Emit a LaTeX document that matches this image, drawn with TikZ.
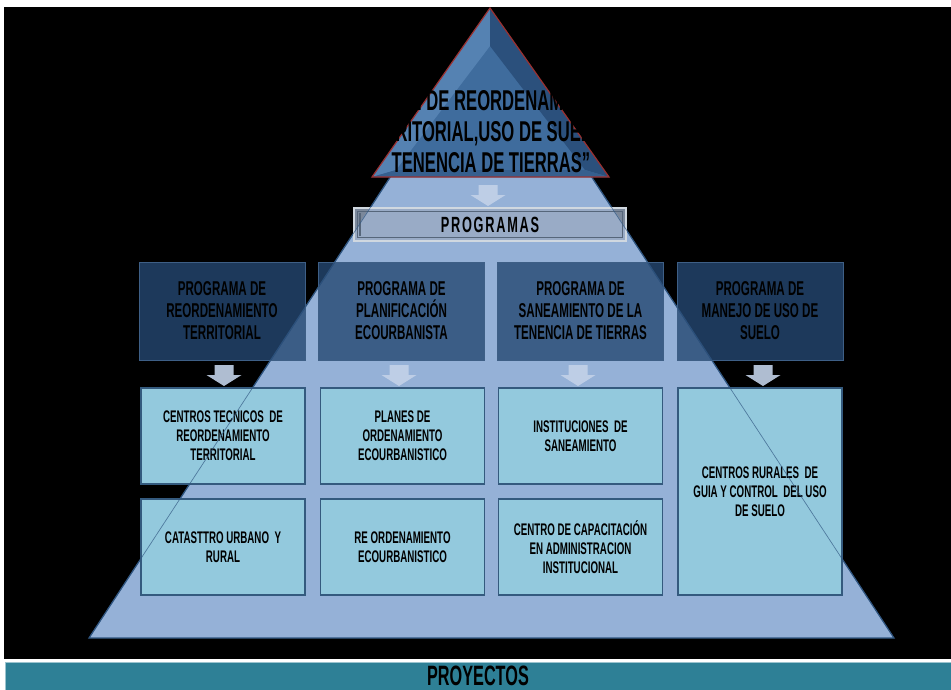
\documentclass[tikz,border=0pt]{standalone}
\usepackage{fontspec}
\newfontfamily\agency{Liberation Sans}[FakeStretch=0.58]
\definecolor{pyrfill}{HTML}{95B1D7}
\definecolor{pyredge}{HTML}{2F5580}
\definecolor{progfill}{HTML}{254872}
\definecolor{progedge}{HTML}{3E5F86}
\definecolor{cyanfill}{HTML}{93C9DD}
\definecolor{cyanedge}{HTML}{345A7E}
\definecolor{arrowcol}{HTML}{C3D2E8}
\definecolor{barteal}{HTML}{2E8096}
\definecolor{baredge}{HTML}{9CC4CF}
\definecolor{tribase}{HTML}{3F6C9D}
\definecolor{trileft}{HTML}{5582B2}
\definecolor{triright}{HTML}{2B507C}
\definecolor{tribottom}{HTML}{365F8E}
\definecolor{triedge}{HTML}{9A3030}
\definecolor{progsfill}{HTML}{9AAAC2}
\definecolor{progsedge}{HTML}{D0D8E0}
\definecolor{progsinner}{HTML}{56667A}
\begin{document}
\begin{tikzpicture}[x=0.75pt,y=-0.75pt,
  progbox/.style={fill=progfill, fill opacity=0.8, text opacity=1, draw=progedge, line width=0.6pt,
    minimum width=124.5pt, minimum height=73.5pt, inner sep=0pt, align=center, text=black,
    font=\agency\bfseries\fontsize{15}{16.5}\selectfont},
  cyanbox/.style={fill=cyanfill, draw=cyanedge, line width=0.9pt,
    minimum width=123pt, minimum height=72pt, inner sep=0pt, align=center, text=black,
    font=\agency\bfseries\fontsize{12.6}{14.25}\selectfont},
  tallbox/.style={cyanbox, minimum height=155.25pt},
  progsbox/.style={fill=progsfill, fill opacity=0.8, text opacity=1, draw=progsedge, line width=1.2pt,
    minimum width=204pt, minimum height=24.75pt, inner sep=0pt, text=black,
    font=\agency\bfseries\fontsize{16.5}{18}\selectfont\addfontfeature{LetterSpace=8}},
  titletext/.style={align=center, text=black, inner sep=0pt,
    font=\agency\bfseries\fontsize{21.5}{23.25}\selectfont},
  barbox/.style={fill=barteal, draw=baredge, line width=0.6pt, minimum width=709.5pt,
    minimum height=21pt, inner sep=0pt, text=black,
    font=\agency\bfseries\fontsize{21}{22}\selectfont},
  downarr/.pic={\fill[arrowcol, opacity=0.9] (-9.5,0) -- (9.5,0) -- (9.5,10) -- (17.5,10) -- (0,21) -- (-17.5,10) -- (-9.5,10) -- cycle;}
]
\useasboundingbox (0,0) rectangle (951,690);
\fill[white] (0,0) rectangle (951,690);
\fill[black] (4,7) rectangle (951,659);

% big pyramid
\coordinate (pbl) at (89,638);
\coordinate (pbr) at (894,638);
\coordinate (ptl) at (393.6,172);
\coordinate (ptr) at (588.4,172);
\fill[pyrfill] (pbl) -- (ptl) -- (ptr) -- (pbr) -- cycle;
\draw[pyredge, line width=0.9pt] (ptl) -- (pbl) -- (pbr) -- (ptr);

% PROGRAMAS arrow and box
\pic (arr0) at (488,185) {downarr};
\node[progsbox] (progs) at (490,224.5) {PROGRAMAS};
\draw[progsinner, line width=0.6pt] ([shift={(4,4)}]progs.north west) rectangle ([shift={(-4,-4)}]progs.south east);
\draw[progsinner, line width=1.5pt] ([shift={(7,6)}]progs.north west) -- ([shift={(7,-6)}]progs.south west);

% program boxes
\node[progbox] (p1) at (222,311) {PROGRAMA DE\\REORDENAMIENTO\\TERRITORIAL};
\node[progbox] (p2) at (401.5,311) {PROGRAMA DE\\PLANIFICACIÓN\\ECOURBANISTA};
\node[progbox] (p3) at (580.5,311) {PROGRAMA DE\\SANEAMIENTO DE LA\\TENENCIA DE TIERRAS};
\node[progbox] (p4) at (760,311) {PROGRAMA DE\\MANEJO DE USO DE\\SUELO};

% arrows
\pic (arr1) at (224,365) {downarr};
\pic (arr2) at (399,365) {downarr};
\pic (arr3) at (578,365) {downarr};
\pic (arr4) at (763,365) {downarr};

% project boxes
\node[cyanbox] (c11) at (223,436) {CENTROS TECNICOS\ \ DE\\REORDENAMIENTO\\TERRITORIAL};
\node[cyanbox] (c21) at (402.5,436) {PLANES DE\\ORDENAMIENTO\\ECOURBANISTICO};
\node[cyanbox] (c31) at (580.5,436) {INSTITUCIONES\ \ DE\\SANEAMIENTO};
\node[cyanbox] (c12) at (223,547) {CATASTTRO URBANO\ \ Y\\RURAL};
\node[cyanbox] (c22) at (402.5,547) {RE ORDENAMIENTO\\ECOURBANISTICO};
\node[cyanbox] (c32) at (580.5,547) {CENTRO DE CAPACITACIÓN\\EN ADMINISTRACION\\INSTITUCIONAL};
\node[tallbox] (c4) at (760,491.5) {CENTROS RURALES\ \ DE\\GUIA Y CONTROL\ \ DEL USO\\DE SUELO};

% pyramid edges seen through the boxes
\draw[pyredge, line width=0.5pt, opacity=0.7] (ptl) -- (pbl);
\draw[pyredge, line width=0.5pt, opacity=0.7] (ptr) -- (pbr);

% top triangle
\coordinate (ta) at (490,8);
\coordinate (tb) at (372,177);
\coordinate (tc) at (609,177);
\coordinate (tai) at (490,46);
\coordinate (tbi) at (396,170);
\coordinate (tci) at (585,170);
\fill[tribase] (ta) -- (tb) -- (tc) -- cycle;
\fill[trileft] (ta) -- (tb) -- (tbi) -- (tai) -- cycle;
\fill[triright] (ta) -- (tai) -- (tci) -- (tc) -- cycle;
\fill[tribottom] (tb) -- (tc) -- (tci) -- (tbi) -- cycle;
\draw[triedge, line width=0.9pt] (ta) -- (tb) -- (tc) -- cycle;
\node[titletext] (title) at (491,132) {“PLAN DE REORDENAMIENTO\\TERRITORIAL,USO DE SUELO Y\\TENENCIA DE TIERRAS”};

% bottom bar
\node[barbox] (proj) at (478,676) {PROYECTOS};
\end{tikzpicture}
\end{document}
